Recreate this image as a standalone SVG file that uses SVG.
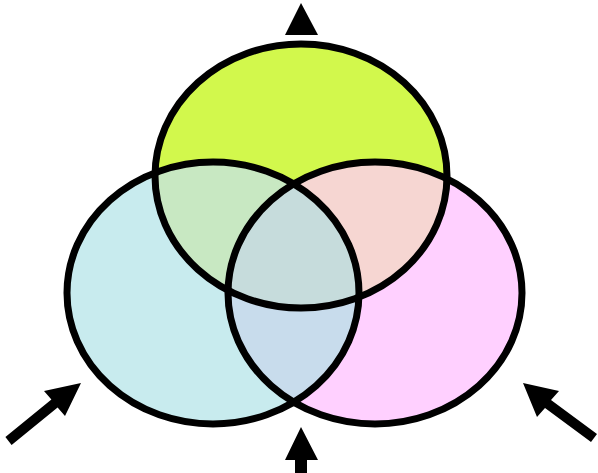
<svg xmlns="http://www.w3.org/2000/svg" width="598" height="473" viewBox="0 0 598 473">
<style>
.ol{fill:none;stroke:#000;stroke-width:7}
.ar{fill:#000}
</style>
<defs>
<clipPath id="cT"><ellipse cx="301" cy="176" rx="146" ry="132"/></clipPath>
<clipPath id="cL"><ellipse cx="213" cy="293" rx="146" ry="131"/></clipPath>
<clipPath id="cR"><ellipse cx="375" cy="293" rx="147" ry="131"/></clipPath>
</defs>
<rect width="598" height="473" fill="#fff"/>
<g id="fills">
<ellipse cx="301" cy="176" rx="146" ry="132" fill="#d2f84c"/>
<ellipse cx="213" cy="293" rx="146" ry="131" fill="#c8ebee"/>
<ellipse cx="375" cy="293" rx="147" ry="131" fill="#ffd0ff"/>
<g clip-path="url(#cT)"><ellipse cx="213" cy="293" rx="146" ry="131" fill="#c8e8c2"/><ellipse cx="375" cy="293" rx="147" ry="131" fill="#f6d6d2"/></g>
<g clip-path="url(#cL)"><ellipse cx="375" cy="293" rx="147" ry="131" fill="#c8dcec"/></g>
<g clip-path="url(#cT)"><g clip-path="url(#cL)"><ellipse cx="375" cy="293" rx="147" ry="131" fill="#c6dcdc"/></g></g>
</g>
<g id="top"><ellipse class="ol" cx="301" cy="176" rx="146" ry="132"/></g>
<g id="left"><ellipse class="ol" cx="213" cy="293" rx="146" ry="131"/></g>
<g id="right"><ellipse class="ol" cx="375" cy="293" rx="147" ry="131"/></g>
<g id="connectors">
<polygon class="ar" points="301,3 318,35 285,35"/>
<polygon class="ar" points="301,427 318,460 307,460 307,473 295,473 295,460 285,460"/>
<polygon class="ar" points="5.4,437.1 51.4,399.6 44,391 81,383 65,416 57.6,407.4 11.6,444.9"/>
<polygon class="ar" points="523,383 559,391 551,400 597,434 591,442 545,408 537,417"/>
</g>
</svg>
